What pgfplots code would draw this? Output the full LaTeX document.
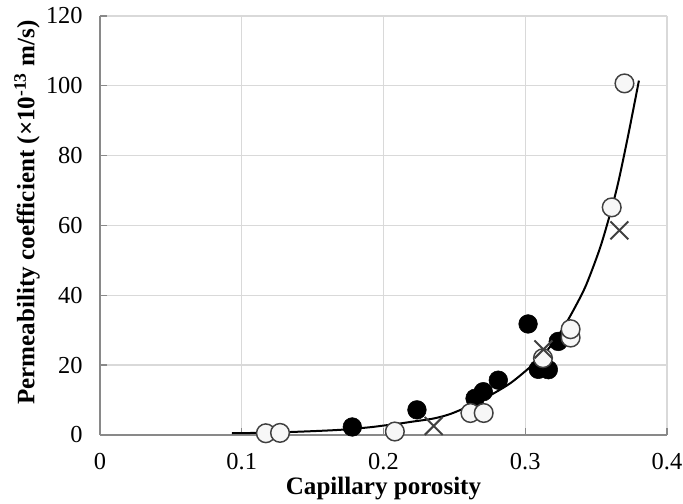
\documentclass[border=0pt]{standalone}
\usepackage{fontspec}
\setmainfont{Liberation Serif}
\usepackage{pgfplots}
\pgfplotsset{compat=1.18}
\definecolor{gridc}{HTML}{D9D9D9}
\definecolor{axc}{HTML}{898989}
\definecolor{mk}{HTML}{404040}
\begin{document}
\begin{tikzpicture}
\begin{axis}[
 scale only axis, width=425.25pt, height=314.25pt,
 xmin=0, xmax=0.4, ymin=0, ymax=120,
 xtick={0,0.1,0.2,0.3,0.4}, ytick={0,20,40,60,80,100,120},
 xticklabels={0,0.1,0.2,0.3,0.4},
 axis x line*=bottom, axis y line*=left,
 axis line style={axc, line width=1pt},
 tick align=inside, major tick length=5.5pt, tick style={axc, line width=1pt},
 grid=major, major grid style={gridc, line width=1pt},
 ticklabel style={font=\fontsize{18.3}{21}\selectfont},
 xticklabel style={yshift=-10.5pt},
 yticklabel style={xshift=-9.5pt},
 /pgf/number format/assume math mode=true,
 xlabel={Capillary porosity},
 ylabel={Permeability coefficient (×10\textsuperscript{-13} m/s)},
 label style={font=\fontsize{18.8}{22}\selectfont\bfseries},
 xlabel style={at={(axis description cs:0.5,0)}, anchor=base, yshift=-45pt},
 ylabel style={at={(axis description cs:-0.1288,0.531)}, anchor=center},
 clip=false,
]
% fitted curve
\addplot[black, line width=1.5pt, smooth, tension=0.5] coordinates {
(0.093,0.5) (0.11,0.6) (0.13,0.8) (0.15,1.1) (0.17,1.5) (0.19,2.2) (0.20,2.7)
(0.21,3.2) (0.22,3.8) (0.235,4.7) (0.247,6.0) (0.261,8.4) (0.275,11.3)
(0.289,14.7) (0.301,18.6) (0.31,22.0) (0.318,25.5) (0.327,30.8) (0.335,36.5)
(0.343,43) (0.3527,53.5) (0.36,63.5) (0.3657,72.5) (0.3727,86) (0.3802,101.5)
};
% filled circles
\addplot[only marks, mark=*, mark size=7pt, mark options={fill=black, draw=black}] coordinates {
(0.178,2.3) (0.2236,7.2) (0.2646,10.5) (0.2704,12.4) (0.281,15.7) (0.302,31.8)
(0.3092,18.8) (0.3163,18.7) (0.3233,26.8)
};
% open circles
\addplot[only marks, mark=*, mark size=7pt, mark options={fill=gray!6, draw=mk, line width=1.1pt}] coordinates {
(0.117,0.5) (0.127,0.6) (0.208,1.0) (0.2613,6.3) (0.2707,6.3) (0.3125,22.0)
(0.332,27.9) (0.332,30.3) (0.361,65.2) (0.370,100.7)
};
% crosses
\addplot[only marks, mark=x, mark size=9.5pt, mark options={draw=mk, line width=1.5pt}] coordinates {
(0.2354,2.6) (0.3128,24.5) (0.3664,58.6)
};
\end{axis}
\pgfresetboundingbox
\path (current axis.south west) ++(-75pt,-51.75pt) rectangle ++(512.25pt,378pt);
\end{tikzpicture}
\end{document}
